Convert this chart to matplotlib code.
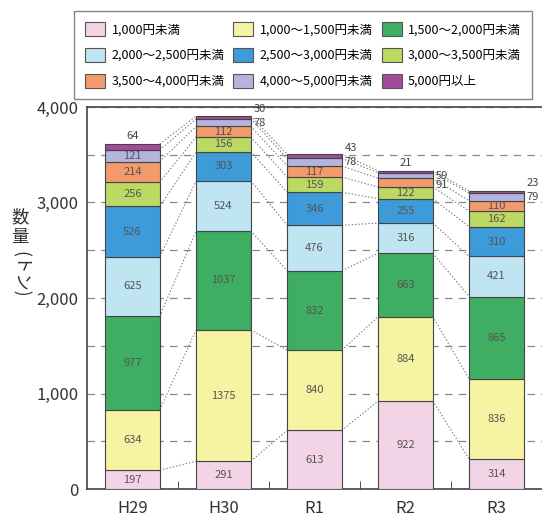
import numpy as np
import matplotlib
matplotlib.use("Agg")
import matplotlib.pyplot as plt
from matplotlib.patches import Patch
from matplotlib.ticker import FuncFormatter, MultipleLocator

plt.rcParams['font.family'] = ['Noto Sans CJK JP', 'DejaVu Sans']

years = ["H29", "H30", "R1", "R2", "R3"]
price_bands = ["1,000円未満", "1,000～1,500円未満", "1,500～2,000円未満",
               "2,000～2,500円未満", "2,500～3,000円未満", "3,000～3,500円未満",
               "3,500～4,000円未満", "4,000～5,000円未満", "5,000円以上"]
colors = ["#f2d4e6", "#f6f4a2", "#3fae62", "#bfe4f2", "#3c9bd8",
          "#bcd964", "#f19a6c", "#b4b4de", "#a24a9c"]

# values per year, one list per price band
under_1000 = [197, 291, 613, 922, 314]
b1000_1500 = [634, 1375, 840, 884, 836]
b1500_2000 = [977, 1037, 832, 663, 865]
b2000_2500 = [625, 524, 476, 316, 421]
b2500_3000 = [526, 303, 346, 255, 310]
b3000_3500 = [256, 156, 159, 122, 162]
b3500_4000 = [214, 112, 117, 91, 110]
b4000_5000 = [121, 78, 78, 59, 79]
over_5000 = [64, 30, 43, 21, 23]

data = np.array([under_1000, b1000_1500, b1500_2000, b2000_2500, b2500_3000,
                 b3000_3500, b3500_4000, b4000_5000, over_5000])

fig = plt.figure(figsize=(5.42, 5.20), dpi=100)
ax = fig.add_axes([87/542, 31/520, 455/542, 382/520])

x = np.arange(len(years))
w = 0.6
bottoms = np.zeros(len(years))
tops = []
for k in range(len(price_bands)):
    ax.bar(x, data[k], w, bottom=bottoms, color=colors[k],
           edgecolor="#444444", linewidth=0.8, zorder=3)
    bottoms = bottoms + data[k]
    tops.append(bottoms.copy())
tops = np.array(tops)

# dotted connectors between bars
for k in range(len(price_bands)):
    for i in range(len(years) - 1):
        ax.plot([x[i] + w/2, x[i+1] - w/2], [tops[k][i], tops[k][i+1]],
                linestyle=(0, (1.2, 1.8)), color="#777777", linewidth=0.8, zorder=2)

lab = dict(fontsize=8, color="#555555")
out = dict(fontsize=8, color="#444444")

# labels inside segments
for k in range(7):
    for i in range(len(years)):
        if k == 6 and i == 3:
            continue
        mid = tops[k][i] - data[k][i] / 2
        ax.text(x[i], mid, str(data[k][i]), ha="center", va="center", zorder=4, **lab)

# small segments at the top: labels outside
for i in range(len(years)):
    mid78 = tops[7][i] - data[7][i] / 2
    if i == 0:
        ax.text(x[i], mid78, str(data[7][i]), ha="center", va="center", zorder=4, **lab)
        ax.annotate(str(data[8][i]), (x[i], tops[8][i]), xytext=(0, 2),
                    textcoords="offset points", ha="center", va="bottom", **out)
    else:
        ax.annotate(str(data[7][i]), (x[i] + w/2, mid78), xytext=(2, 0),
                    textcoords="offset points", ha="left", va="center", **out)
        if i == 3:
            ax.annotate(str(data[6][i]), (x[i] + w/2, tops[6][i] - data[6][i]/2),
                        xytext=(2, -2), textcoords="offset points", ha="left",
                        va="center", **out)
            ax.annotate(str(data[8][i]), (x[i], tops[8][i]), xytext=(0, 2),
                        textcoords="offset points", ha="center", va="bottom", **out)
        else:
            ax.annotate(str(data[8][i]), (x[i] + w/2, mid78), xytext=(2, 10),
                        textcoords="offset points", ha="left", va="center", **out)

ax.set_xlim(-0.5, 4.5)
ax.set_ylim(0, 4000)
ax.set_xticks(x)
ax.set_xticklabels(years, fontsize=12, color="#333333")
ax.set_xticks(x[:-1] + 0.5, minor=True)
ax.tick_params(axis="x", which="major", length=0, pad=8)
ax.tick_params(axis="x", which="minor", direction="in", length=6, color="#333333")
ax.yaxis.set_major_locator(MultipleLocator(1000))
ax.yaxis.set_minor_locator(MultipleLocator(500))
ax.yaxis.set_major_formatter(FuncFormatter(lambda v, p: f"{int(v):,}"))
ax.tick_params(axis="y", which="both", length=0, labelsize=12, labelcolor="#333333", pad=6)
ax.grid(axis="y", which="both", linestyle=(0, (6, 5)), color="#888888", linewidth=0.9, zorder=1)
ax.spines["right"].set_visible(False)
for s in ["left", "top", "bottom"]:
    ax.spines[s].set_color("#444444")
    ax.spines[s].set_linewidth(1.2)

fig.text(20/542, 1 - 227/520, "数\n量", ha="center", va="center", fontsize=12.5,
         linespacing=1.15, color="#333333")
fig.text(20/542, 1 - 274/520, "(トン)", ha="center", va="center", fontsize=12.5,
         rotation=270, color="#333333")

handles = [Patch(facecolor=colors[k], edgecolor="#555555", linewidth=0.8)
           for k in range(len(price_bands))]
order = [0, 3, 6, 1, 4, 7, 2, 5, 8]
leg = fig.legend([handles[k] for k in order], [price_bands[k] for k in order],
                 ncol=3, loc="upper left", bbox_to_anchor=(74/542, 1 - 11/520, 458/542, 0),
                 mode="expand", fontsize=9, frameon=True, fancybox=False,
                 handlelength=1.6, handleheight=1.3, columnspacing=0.4,
                 handletextpad=0.5, borderaxespad=0, borderpad=0.9, labelspacing=0.95)
leg.get_frame().set_edgecolor("#666666")
leg.get_frame().set_linewidth(1.0)

fig.savefig("out.png", dpi=100)
